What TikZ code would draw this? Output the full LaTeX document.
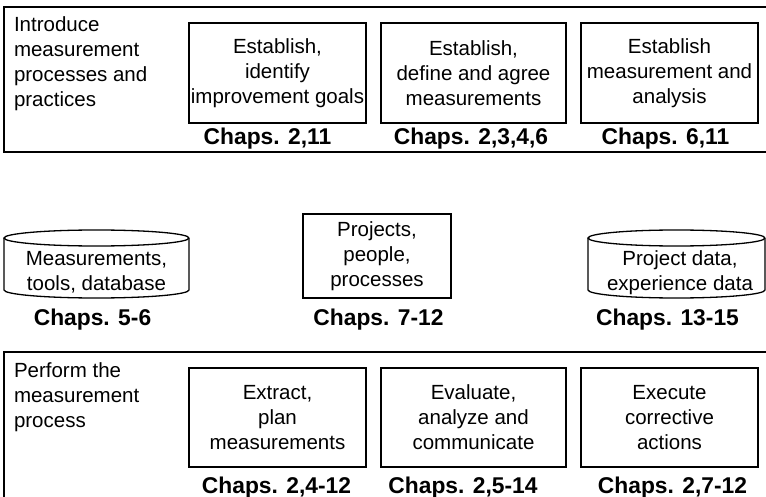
\documentclass[tikz,border=0pt]{standalone}
\usepackage{fontspec}
\setmainfont{Liberation Sans}
\begin{document}
\begin{tikzpicture}[x=1pt,y=-1pt,
  every node/.style={inner sep=0pt, outer sep=0pt},
  lbl/.style={font=\fontsize{20.5}{25}\selectfont, align=center},
  stepbox/.style={lbl, draw, line width=1.3pt},
  sidetext/.style={font=\fontsize{20.5}{25}\selectfont, align=left, anchor=north west},
  chaps/.style={font=\fontsize{22.8}{27}\selectfont\bfseries, anchor=base},
  band/.style={line width=1.3pt},
  cylbody/.style={minimum height=68pt},
  cyltext/.style={lbl, text depth=0pt},
  cylline/.style={line width=1.3pt},
]
\useasboundingbox (0,0) rectangle (766,497);
\clip (0,0) rectangle (766,497);

% upper band: introducing measurement
\draw[band] (780,7) -- (4,7) -- (4,152) -- (780,152);
\node[sidetext] (intro) at (14,17) {Introduce\\measurement\\processes and\\practices};
\node[stepbox, minimum width=177pt, minimum height=100pt] (goals) at (277.5,73)
  {Establish,\\identify\\improvement goals};
\node[stepbox, minimum width=185pt, minimum height=100pt] (define) at (473.5,73)
  {Establish,\\define and agree\\measurements};
\node[stepbox, minimum width=177pt, minimum height=100pt] (analysis) at (669.5,73)
  {Establish\\measurement and\\analysis};
\node[chaps] (c1) at (267.5,145) {Chaps. 2,11};
\node[chaps] (c2) at (471,145) {Chaps. 2,3,4,6};
\node[chaps] (c3) at (665.5,145) {Chaps. 6,11};

% middle row: resources (two databases around the project box)
\node[cylbody, minimum width=185pt] (tools) at (96.5,264) {};
\node[cyltext] (toolstext) at (96.5,271) {Measurements,\\tools, database};
\draw[cylline] ([yshift=-8pt]tools.north east)
  arc[start angle=0, end angle=360, x radius=92.5pt, y radius=8pt];
\draw[cylline] ([yshift=-8pt]tools.north west) -- ([yshift=8pt]tools.south west)
  arc[start angle=180, end angle=360, x radius=92.5pt, y radius=8pt]
  -- ([yshift=-8pt]tools.north east);

\node[stepbox, minimum width=148pt, minimum height=84pt] (people) at (377,256)
  {Projects,\\people,\\processes};

\node[cylbody, minimum width=177pt] (expdata) at (676.5,264) {};
\node[cyltext] (exptext) at (680,271) {Project data,\\experience data};
\draw[cylline] ([yshift=-8pt]expdata.north east)
  arc[start angle=0, end angle=360, x radius=88.5pt, y radius=8pt];
\draw[cylline] ([yshift=-8pt]expdata.north west) -- ([yshift=8pt]expdata.south west)
  arc[start angle=180, end angle=360, x radius=88.5pt, y radius=8pt]
  -- ([yshift=-8pt]expdata.north east);

\node[chaps] (c4) at (92.5,325) {Chaps. 5-6};
\node[chaps] (c5) at (378.5,325) {Chaps. 7-12};
\node[chaps] (c6) at (667.5,325) {Chaps. 13-15};

% lower band: performing measurement
\draw[band] (780,352) -- (4,352) -- (4,510);
\node[sidetext] (perform) at (14,363) {Perform the\\measurement\\process};
\node[stepbox, minimum width=177pt, minimum height=99pt] (extract) at (277.5,417.5)
  {Extract,\\plan\\measurements};
\node[stepbox, minimum width=185pt, minimum height=99pt] (evaluate) at (473.5,417.5)
  {Evaluate,\\analyze and\\communicate};
\node[stepbox, minimum width=177pt, minimum height=99pt] (execute) at (669.5,417.5)
  {Execute\\corrective\\actions};
\node[chaps] (c7) at (276.5,493) {Chaps. 2,4-12};
\node[chaps] (c8) at (463,493) {Chaps. 2,5-14};
\node[chaps] (c9) at (672.5,493) {Chaps. 2,7-12};
\end{tikzpicture}
\end{document}
